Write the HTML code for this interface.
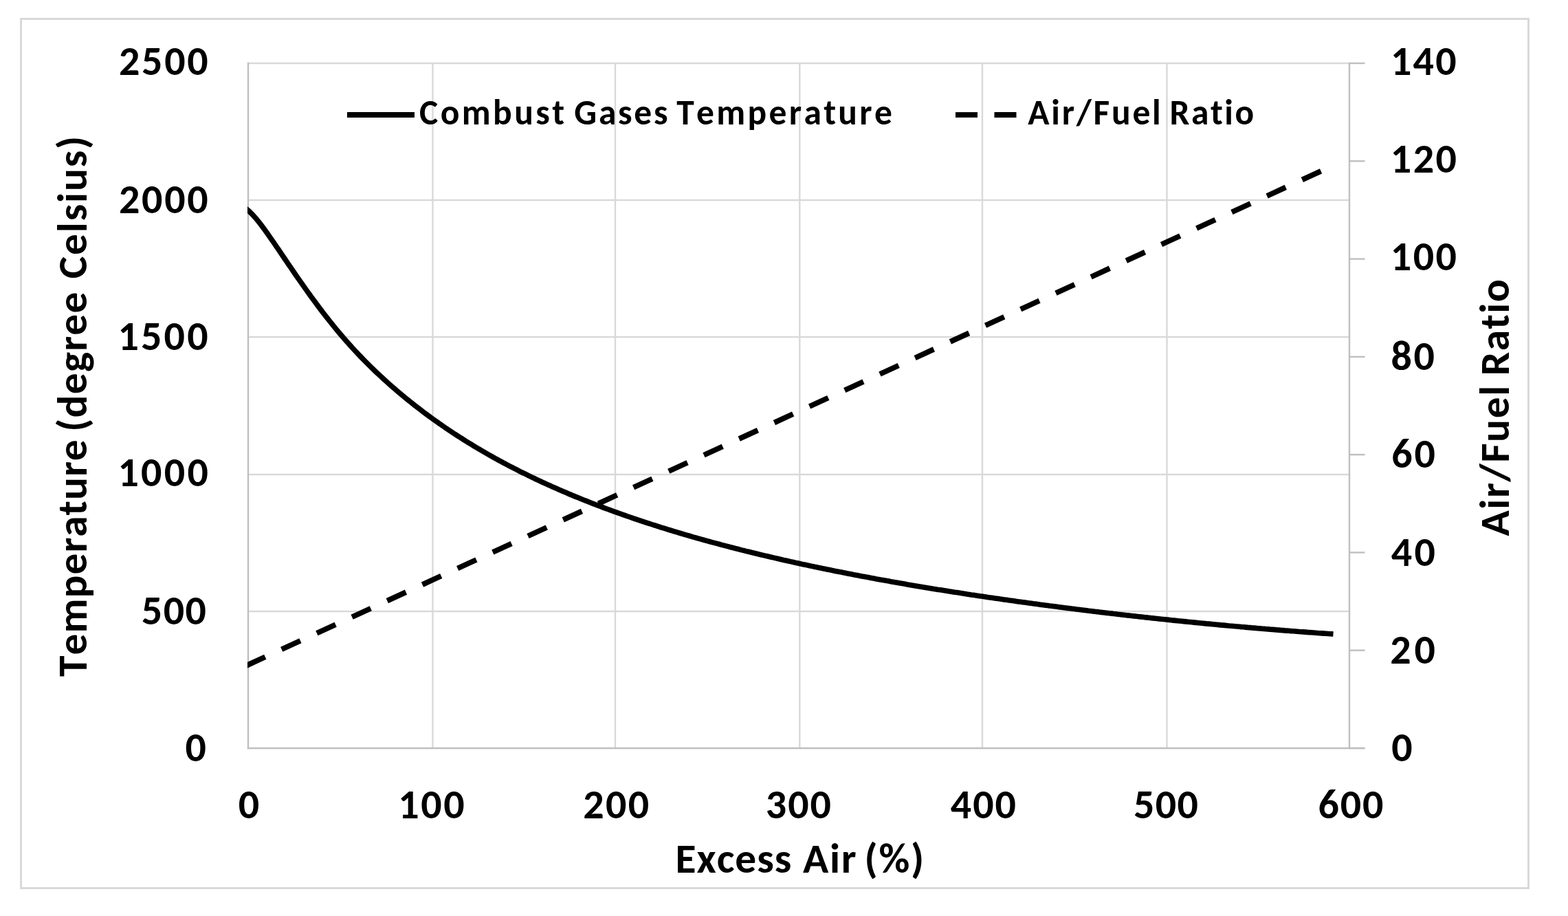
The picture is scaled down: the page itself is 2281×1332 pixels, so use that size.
<!DOCTYPE html>
<html><head><meta charset="utf-8"><title>Combustion chart</title>
<style>html,body{margin:0;padding:0;background:#fff;} svg{display:block} text{font-family:Calibri,Carlito,'Liberation Sans',sans-serif;font-weight:bold;fill:#000;font-kerning:none;font-feature-settings:'kern' 0}</style>
</head><body>
<svg width="2281" height="1332" viewBox="0 0 2281 1332">
<rect x="0" y="0" width="2281" height="1332" fill="#fff"/>

<rect x="30.5" y="27.5" width="2193.0" height="1264.0" fill="none" stroke="#d9d9d9" stroke-width="3"/>
<line x1="361" y1="92" x2="1963" y2="92" stroke="#d9d9d9" stroke-width="2.4"/>
<line x1="361" y1="291" x2="1963" y2="291" stroke="#d9d9d9" stroke-width="2.4"/>
<line x1="361" y1="490" x2="1963" y2="490" stroke="#d9d9d9" stroke-width="2.4"/>
<line x1="361" y1="690" x2="1963" y2="690" stroke="#d9d9d9" stroke-width="2.4"/>
<line x1="361" y1="889" x2="1963" y2="889" stroke="#d9d9d9" stroke-width="2.4"/>
<line x1="629.5" y1="92" x2="629.5" y2="1088" stroke="#d9d9d9" stroke-width="2.4"/>
<line x1="895" y1="92" x2="895" y2="1088" stroke="#d9d9d9" stroke-width="2.4"/>
<line x1="1163.3" y1="92" x2="1163.3" y2="1088" stroke="#d9d9d9" stroke-width="2.4"/>
<line x1="1429" y1="92" x2="1429" y2="1088" stroke="#d9d9d9" stroke-width="2.4"/>
<line x1="1697.5" y1="92" x2="1697.5" y2="1088" stroke="#d9d9d9" stroke-width="2.4"/>
<line x1="361" y1="90.8" x2="361" y2="1089.2" stroke="#bfbfbf" stroke-width="2.4"/>
<line x1="1963" y1="90.8" x2="1963" y2="1089.2" stroke="#bfbfbf" stroke-width="2.4"/>
<line x1="359.8" y1="1088" x2="1985.5" y2="1088" stroke="#bfbfbf" stroke-width="2.4"/>
<line x1="1963" y1="1088.00" x2="1985.5" y2="1088.00" stroke="#bfbfbf" stroke-width="2.4"/>
<line x1="1963" y1="945.71" x2="1985.5" y2="945.71" stroke="#bfbfbf" stroke-width="2.4"/>
<line x1="1963" y1="803.43" x2="1985.5" y2="803.43" stroke="#bfbfbf" stroke-width="2.4"/>
<line x1="1963" y1="661.14" x2="1985.5" y2="661.14" stroke="#bfbfbf" stroke-width="2.4"/>
<line x1="1963" y1="518.86" x2="1985.5" y2="518.86" stroke="#bfbfbf" stroke-width="2.4"/>
<line x1="1963" y1="376.57" x2="1985.5" y2="376.57" stroke="#bfbfbf" stroke-width="2.4"/>
<line x1="1963" y1="234.28" x2="1985.5" y2="234.28" stroke="#bfbfbf" stroke-width="2.4"/>
<line x1="1963" y1="92.00" x2="1985.5" y2="92.00" stroke="#bfbfbf" stroke-width="2.4"/>
<clipPath id="pc"><rect x="360" y="72" width="1604" height="1036"/></clipPath>
<polyline clip-path="url(#pc)" points="357.0,302.8 360.0,305.1 363.0,307.7 366.0,310.7 369.0,313.9 372.0,317.3 375.0,320.9 378.0,324.7 381.0,328.6 384.0,332.6 387.0,336.8 390.0,341.0 393.0,345.3 396.0,349.6 399.0,353.9 402.0,358.3 405.0,362.7 408.0,367.2 411.0,371.6 414.0,376.0 417.0,380.4 420.0,384.9 423.0,389.2 426.0,393.6 429.0,398.0 432.0,402.3 435.0,406.6 438.0,410.9 441.0,415.2 444.0,419.4 447.0,423.6 450.0,427.8 453.0,431.9 456.0,436.0 459.0,440.1 462.0,444.1 465.0,448.1 468.0,452.1 471.0,456.0 474.0,459.9 477.0,463.7 480.0,467.5 483.0,471.2 486.0,474.9 489.0,478.6 492.0,482.2 495.0,485.8 498.0,489.3 501.0,492.8 504.0,496.2 507.0,499.6 510.0,502.9 513.0,506.2 516.0,509.5 519.0,512.7 522.0,515.9 525.0,519.0 528.0,522.1 531.0,525.1 534.0,528.1 537.0,531.1 540.0,534.1 543.0,537.0 546.0,539.9 549.0,542.7 552.0,545.5 555.0,548.3 558.0,551.1 561.0,553.8 564.0,556.5 567.0,559.2 570.0,561.8 573.0,564.4 576.0,567.0 579.0,569.6 582.0,572.1 585.0,574.6 588.0,577.1 591.0,579.6 594.0,582.0 597.0,584.4 600.0,586.8 603.0,589.2 606.0,591.5 609.0,593.8 612.0,596.1 615.0,598.4 618.0,600.7 621.0,602.9 624.0,605.1 627.0,607.3 630.0,609.5 633.0,611.6 636.0,613.7 639.0,615.9 642.0,617.9 645.0,620.0 648.0,622.1 651.0,624.1 654.0,626.1 657.0,628.1 660.0,630.1 663.0,632.0 666.0,634.0 669.0,635.9 672.0,637.8 675.0,639.7 678.0,641.6 681.0,643.5 684.0,645.3 687.0,647.1 690.0,649.0 693.0,650.8 696.0,652.5 699.0,654.3 702.0,656.0 705.0,657.8 708.0,659.5 711.0,661.2 714.0,662.9 717.0,664.6 720.0,666.3 723.0,667.9 726.0,669.6 729.0,671.2 732.0,672.8 735.0,674.4 738.0,676.0 741.0,677.6 744.0,679.1 747.0,680.7 750.0,682.2 753.0,683.7 756.0,685.3 759.0,686.8 762.0,688.2 765.0,689.7 768.0,691.2 771.0,692.6 774.0,694.1 777.0,695.5 780.0,697.0 783.0,698.4 786.0,699.8 789.0,701.2 792.0,702.5 795.0,703.9 798.0,705.3 801.0,706.6 804.0,708.0 807.0,709.3 810.0,710.6 813.0,711.9 816.0,713.2 819.0,714.5 822.0,715.8 825.0,717.1 828.0,718.4 831.0,719.6 834.0,720.9 837.0,722.1 840.0,723.3 843.0,724.5 846.0,725.8 849.0,727.0 852.0,728.1 855.0,729.3 858.0,730.5 861.0,731.7 864.0,732.9 867.0,734.0 870.0,735.2 873.0,736.3 876.0,737.4 879.0,738.6 882.0,739.7 885.0,740.8 888.0,741.9 891.0,743.0 894.0,744.1 897.0,745.1 900.0,746.2 903.0,747.3 906.0,748.4 909.0,749.4 912.0,750.5 915.0,751.5 918.0,752.5 921.0,753.6 924.0,754.6 927.0,755.6 930.0,756.6 933.0,757.6 936.0,758.6 939.0,759.6 942.0,760.6 945.0,761.5 948.0,762.5 951.0,763.5 954.0,764.4 957.0,765.4 960.0,766.3 963.0,767.3 966.0,768.2 969.0,769.1 972.0,770.1 975.0,771.0 978.0,771.9 981.0,772.8 984.0,773.7 987.0,774.6 990.0,775.5 993.0,776.4 996.0,777.3 999.0,778.2 1002.0,779.0 1005.0,779.9 1008.0,780.8 1011.0,781.6 1014.0,782.5 1017.0,783.3 1020.0,784.2 1023.0,785.0 1026.0,785.8 1029.0,786.7 1032.0,787.5 1035.0,788.3 1038.0,789.1 1041.0,789.9 1044.0,790.7 1047.0,791.5 1050.0,792.3 1053.0,793.1 1056.0,793.9 1059.0,794.7 1062.0,795.5 1065.0,796.2 1068.0,797.0 1071.0,797.8 1074.0,798.5 1077.0,799.3 1080.0,800.1 1083.0,800.8 1086.0,801.6 1089.0,802.3 1092.0,803.0 1095.0,803.8 1098.0,804.5 1101.0,805.2 1104.0,806.0 1107.0,806.7 1110.0,807.4 1113.0,808.1 1116.0,808.8 1119.0,809.5 1122.0,810.2 1125.0,810.9 1128.0,811.6 1131.0,812.3 1134.0,813.0 1137.0,813.7 1140.0,814.4 1143.0,815.0 1146.0,815.7 1149.0,816.4 1152.0,817.1 1155.0,817.7 1158.0,818.4 1161.0,819.0 1164.0,819.7 1167.0,820.4 1170.0,821.0 1173.0,821.6 1176.0,822.3 1179.0,822.9 1182.0,823.6 1185.0,824.2 1188.0,824.8 1191.0,825.5 1194.0,826.1 1197.0,826.7 1200.0,827.3 1203.0,827.9 1206.0,828.5 1209.0,829.1 1212.0,829.8 1215.0,830.4 1218.0,831.0 1221.0,831.6 1224.0,832.1 1227.0,832.7 1230.0,833.3 1233.0,833.9 1236.0,834.5 1239.0,835.1 1242.0,835.7 1245.0,836.2 1248.0,836.8 1251.0,837.4 1254.0,838.0 1257.0,838.5 1260.0,839.1 1263.0,839.6 1266.0,840.2 1269.0,840.8 1272.0,841.3 1275.0,841.9 1278.0,842.4 1281.0,843.0 1284.0,843.5 1287.0,844.0 1290.0,844.6 1293.0,845.1 1296.0,845.7 1299.0,846.2 1302.0,846.7 1305.0,847.2 1308.0,847.8 1311.0,848.3 1314.0,848.8 1317.0,849.3 1320.0,849.9 1323.0,850.4 1326.0,850.9 1329.0,851.4 1332.0,851.9 1335.0,852.4 1338.0,852.9 1341.0,853.4 1344.0,853.9 1347.0,854.4 1350.0,854.9 1353.0,855.4 1356.0,855.9 1359.0,856.4 1362.0,856.9 1365.0,857.4 1368.0,857.8 1371.0,858.3 1374.0,858.8 1377.0,859.3 1380.0,859.8 1383.0,860.2 1386.0,860.7 1389.0,861.2 1392.0,861.6 1395.0,862.1 1398.0,862.6 1401.0,863.0 1404.0,863.5 1407.0,864.0 1410.0,864.4 1413.0,864.9 1416.0,865.3 1419.0,865.8 1422.0,866.2 1425.0,866.7 1428.0,867.1 1431.0,867.6 1434.0,868.0 1437.0,868.5 1440.0,868.9 1443.0,869.3 1446.0,869.8 1449.0,870.2 1452.0,870.6 1455.0,871.1 1458.0,871.5 1461.0,871.9 1464.0,872.3 1467.0,872.8 1470.0,873.2 1473.0,873.6 1476.0,874.0 1479.0,874.5 1482.0,874.9 1485.0,875.3 1488.0,875.7 1491.0,876.1 1494.0,876.5 1497.0,876.9 1500.0,877.3 1503.0,877.8 1506.0,878.1 1509.0,878.6 1512.0,879.0 1515.0,879.4 1518.0,879.8 1521.0,880.2 1524.0,880.6 1527.0,881.0 1530.0,881.3 1533.0,881.7 1536.0,882.1 1539.0,882.5 1542.0,882.9 1545.0,883.3 1548.0,883.7 1551.0,884.1 1554.0,884.4 1557.0,884.8 1560.0,885.2 1563.0,885.6 1566.0,886.0 1569.0,886.3 1572.0,886.7 1575.0,887.1 1578.0,887.4 1581.0,887.8 1584.0,888.2 1587.0,888.5 1590.0,888.9 1593.0,889.3 1596.0,889.6 1599.0,890.0 1602.0,890.4 1605.0,890.7 1608.0,891.1 1611.0,891.4 1614.0,891.8 1617.0,892.1 1620.0,892.5 1623.0,892.8 1626.0,893.2 1629.0,893.5 1632.0,893.9 1635.0,894.2 1638.0,894.6 1641.0,894.9 1644.0,895.2 1647.0,895.6 1650.0,895.9 1653.0,896.2 1656.0,896.6 1659.0,896.9 1662.0,897.2 1665.0,897.6 1668.0,897.9 1671.0,898.2 1674.0,898.6 1677.0,898.9 1680.0,899.2 1683.0,899.5 1686.0,899.9 1689.0,900.2 1692.0,900.5 1695.0,900.8 1698.0,901.1 1701.0,901.4 1704.0,901.8 1707.0,902.1 1710.0,902.4 1713.0,902.7 1716.0,903.0 1719.0,903.3 1722.0,903.6 1725.0,903.9 1728.0,904.2 1731.0,904.5 1734.0,904.8 1737.0,905.1 1740.0,905.4 1743.0,905.7 1746.0,906.0 1749.0,906.3 1752.0,906.6 1755.0,906.9 1758.0,907.1 1761.0,907.4 1764.0,907.7 1767.0,908.0 1770.0,908.3 1773.0,908.6 1776.0,908.9 1779.0,909.1 1782.0,909.4 1785.0,909.7 1788.0,910.0 1791.0,910.2 1794.0,910.5 1797.0,910.8 1800.0,911.0 1803.0,911.3 1806.0,911.6 1809.0,911.8 1812.0,912.1 1815.0,912.4 1818.0,912.6 1821.0,912.9 1824.0,913.1 1827.0,913.4 1830.0,913.7 1833.0,913.9 1836.0,914.2 1839.0,914.4 1842.0,914.7 1845.0,914.9 1848.0,915.2 1851.0,915.4 1854.0,915.6 1857.0,915.9 1860.0,916.1 1863.0,916.4 1866.0,916.6 1869.0,916.9 1872.0,917.1 1875.0,917.3 1878.0,917.6 1881.0,917.8 1884.0,918.0 1887.0,918.2 1890.0,918.5 1893.0,918.7 1896.0,918.9 1899.0,919.1 1902.0,919.4 1905.0,919.6 1908.0,919.8 1911.0,920.0 1914.0,920.2 1917.0,920.5 1920.0,920.7 1923.0,920.9 1926.0,921.1 1929.0,921.3 1932.0,921.5 1935.0,921.7 1938.0,921.9 1939.5,922.0" fill="none" stroke="#000" stroke-width="7.6" stroke-linejoin="round" stroke-linecap="butt"/>
<line clip-path="url(#pc)" x1="350" y1="971.76" x2="1936" y2="242.2" stroke="#000" stroke-width="7.8" stroke-dasharray="30 26.35" stroke-dashoffset="47.0"/>
<line x1="505" y1="167" x2="603" y2="167" stroke="#000" stroke-width="7.8" stroke-linecap="butt"/>
<line x1="1390" y1="167" x2="1422" y2="167" stroke="#000" stroke-width="7.8"/>
<line x1="1446.5" y1="167" x2="1478.5" y2="167" stroke="#000" stroke-width="7.8"/>
<text y="108.80" style="font-size:60px"><tspan x="172.98" textLength="132.32" lengthAdjust="spacingAndGlyphs" style="letter-spacing:2.670px">2500</tspan></text>
<text y="309.80" style="font-size:60px"><tspan x="172.98" textLength="132.32" lengthAdjust="spacingAndGlyphs" style="letter-spacing:2.670px">2000</tspan></text>
<text y="508.80" style="font-size:60px"><tspan x="171.39" textLength="134.45" lengthAdjust="spacingAndGlyphs" style="letter-spacing:3.201px">1500</tspan></text>
<text y="707.30" style="font-size:60px"><tspan x="171.39" textLength="134.85" lengthAdjust="spacingAndGlyphs" style="letter-spacing:3.301px">1000</tspan></text>
<text y="908.40" style="font-size:60px"><tspan x="205.87" textLength="95.32" lengthAdjust="spacingAndGlyphs" style="letter-spacing:1.364px">500</tspan></text>
<text y="1107.00" style="font-size:60px"><tspan x="269.39" textLength="30.41" lengthAdjust="spacingAndGlyphs" style="letter-spacing:0.000px">0</tspan></text>
<text y="108.80" style="font-size:60px"><tspan x="2022.99" textLength="97.85" lengthAdjust="spacingAndGlyphs" style="letter-spacing:2.207px">140</tspan></text>
<text y="251.20" style="font-size:60px"><tspan x="2022.79" textLength="98.75" lengthAdjust="spacingAndGlyphs" style="letter-spacing:2.507px">120</tspan></text>
<text y="393.10" style="font-size:60px"><tspan x="2022.79" textLength="98.75" lengthAdjust="spacingAndGlyphs" style="letter-spacing:2.507px">100</tspan></text>
<text y="538.00" style="font-size:60px"><tspan x="2023.41" textLength="66.41" lengthAdjust="spacingAndGlyphs" style="letter-spacing:2.797px">80</tspan></text>
<text y="680.30" style="font-size:60px"><tspan x="2024.34" textLength="66.57" lengthAdjust="spacingAndGlyphs" style="letter-spacing:2.873px">60</tspan></text>
<text y="822.90" style="font-size:60px"><tspan x="2023.76" textLength="67.72" lengthAdjust="spacingAndGlyphs" style="letter-spacing:3.450px">40</tspan></text>
<text y="965.00" style="font-size:60px"><tspan x="2022.18" textLength="70.88" lengthAdjust="spacingAndGlyphs" style="letter-spacing:5.032px">20</tspan></text>
<text y="1106.90" style="font-size:60px"><tspan x="2024.14" textLength="30.41" lengthAdjust="spacingAndGlyphs" style="letter-spacing:0.000px">0</tspan></text>
<text y="1189.90" style="font-size:60px"><tspan x="346.84" textLength="30.41" lengthAdjust="spacingAndGlyphs" style="letter-spacing:0.000px">0</tspan></text>
<text y="1189.90" style="font-size:60px"><tspan x="579.19" textLength="99.20" lengthAdjust="spacingAndGlyphs" style="letter-spacing:2.657px">100</tspan></text>
<text y="1189.90" style="font-size:60px"><tspan x="848.28" textLength="98.31" lengthAdjust="spacingAndGlyphs" style="letter-spacing:2.361px">200</tspan></text>
<text y="1189.90" style="font-size:60px"><tspan x="1113.77" textLength="97.27" lengthAdjust="spacingAndGlyphs" style="letter-spacing:2.013px">300</tspan></text>
<text y="1189.90" style="font-size:60px"><tspan x="1382.86" textLength="97.14" lengthAdjust="spacingAndGlyphs" style="letter-spacing:1.970px">400</tspan></text>
<text y="1189.90" style="font-size:60px"><tspan x="1648.97" textLength="95.17" lengthAdjust="spacingAndGlyphs" style="letter-spacing:1.314px">500</tspan></text>
<text y="1189.90" style="font-size:60px"><tspan x="1917.44" textLength="97.02" lengthAdjust="spacingAndGlyphs" style="letter-spacing:1.931px">600</tspan></text>
<text y="180.80" style="font-size:51.5px"><tspan x="610.04" textLength="214.43" lengthAdjust="spacingAndGlyphs" style="letter-spacing:3.417px">Combust</tspan> <tspan x="835.34" textLength="139.02" lengthAdjust="spacingAndGlyphs" style="letter-spacing:2.753px">Gases</tspan> <tspan x="984.25" textLength="316.94" lengthAdjust="spacingAndGlyphs" style="letter-spacing:3.328px">Temperature</tspan></text>
<text y="180.80" style="font-size:51.5px"><tspan x="1495.30" textLength="196.17" lengthAdjust="spacingAndGlyphs" style="letter-spacing:2.754px">Air/Fuel</tspan> <tspan x="1701.53" textLength="125.13" lengthAdjust="spacingAndGlyphs" style="letter-spacing:2.505px">Ratio</tspan></text>
<text y="1268.70" style="font-size:61.5px"><tspan x="982.56" textLength="169.64" lengthAdjust="spacingAndGlyphs" style="letter-spacing:0.937px">Excess</tspan> <tspan x="1168.08" textLength="79.02" lengthAdjust="spacingAndGlyphs" style="letter-spacing:1.594px">Air</tspan> <tspan x="1257.55" textLength="88.19" lengthAdjust="spacingAndGlyphs" style="letter-spacing:1.678px">(%)</tspan></text>
<text y="0" transform="translate(125.50,983.50) rotate(-90)" style="font-size:61.5px"><tspan x="-0.54" textLength="345.81" lengthAdjust="spacingAndGlyphs" style="letter-spacing:1.004px">Temperature</tspan> <tspan x="355.75" textLength="204.29" lengthAdjust="spacingAndGlyphs" style="letter-spacing:1.176px">(degree</tspan> <tspan x="578.24" textLength="209.20" lengthAdjust="spacingAndGlyphs" style="letter-spacing:1.781px">Celsius)</tspan></text>
<text y="0" transform="translate(2194.50,779.50) rotate(-90)" style="font-size:61.5px"><tspan x="-0.12" textLength="220.51" lengthAdjust="spacingAndGlyphs" style="letter-spacing:1.570px">Air/Fuel</tspan> <tspan x="233.16" textLength="141.51" lengthAdjust="spacingAndGlyphs" style="letter-spacing:1.409px">Ratio</tspan></text>
</svg>
</body></html>
